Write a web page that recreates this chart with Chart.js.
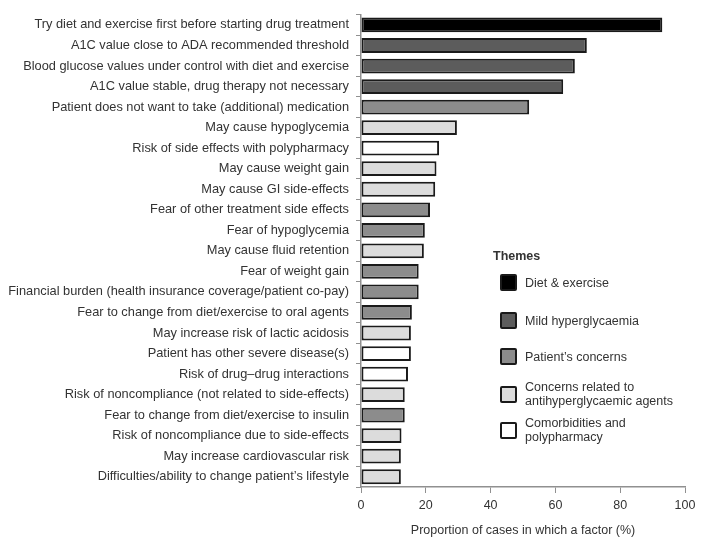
<!DOCTYPE html>
<html>
<head>
<meta charset="utf-8">
<script src="https://cdn.jsdelivr.net/npm/chart.js@4/dist/chart.umd.min.js"></script>
<style>
  html, body { margin: 0; padding: 0; background: #fff; }
  #wrap { position: relative; width: 701px; height: 542px; }
  #legend { position: absolute; left: 493px; top: 249px; width: 200px; font-family: 'Liberation Sans', sans-serif; font-size: 12.5px; color: #333; }
  #legend .title { font-weight: bold; }
  .item { position: absolute; left: 7px; display: flex; align-items: center; gap: 8px; line-height: 14px; white-space: nowrap; }
  .box { width: 13px; height: 13px; border: 2px solid #1a1a1a; border-radius: 2px; flex: none; }
</style>
</head>
<body>
<div id="wrap">
  <canvas id="c" width="701" height="542"></canvas>
  <div id="legend"></div>
</div>
<script>
const factorLabels = [
  'Try diet and exercise first before starting drug treatment',
  'A1C value close to ADA recommended threshold',
  'Blood glucose values under control with diet and exercise',
  'A1C value stable, drug therapy not necessary',
  'Patient does not want to take (additional) medication',
  'May cause hypoglycemia',
  'Risk of side effects with polypharmacy',
  'May cause weight gain',
  'May cause GI side-effects',
  'Fear of other treatment side effects',
  'Fear of hypoglycemia',
  'May cause fluid retention',
  'Fear of weight gain',
  'Financial burden (health insurance coverage/patient co-pay)',
  'Fear to change from diet/exercise to oral agents',
  'May increase risk of lactic acidosis',
  'Patient has other severe disease(s)',
  'Risk of drug\u2013drug interactions',
  'Risk of noncompliance (not related to side-effects)',
  'Fear to change from diet/exercise to insulin',
  'Risk of noncompliance due to side-effects',
  'May increase cardiovascular risk',
  'Difficulties/ability to change patient\u2019s lifestyle'
];
const proportions = [93, 69.7, 66, 62.4, 51.9, 29.6, 24.1, 23.3, 22.9, 21.3, 19.7, 19.4, 17.8, 17.8, 15.7, 15.4, 15.4, 14.5, 13.5, 13.5, 12.5, 12.3, 12.3];
// theme index for each factor
const factorTheme = [0, 1, 1, 1, 2, 3, 4, 3, 3, 2, 2, 3, 2, 2, 2, 3, 4, 4, 3, 2, 3, 3, 3];
const themeNames = ['Diet & exercise', 'Mild hyperglycaemia', 'Patient\u2019s  concerns', 'Concerns related to<br>antihyperglycaemic agents', 'Comorbidities and<br>polypharmacy'];
const themeColors = ['#000000', '#5c5c5c', '#8c8c8c', '#dcdcdc', '#ffffff'];
const themeRowsY = [33, 71, 107, 139, 175];
const xTicks = [0, 20, 40, 60, 80, 100];

const font = { family: "'Liberation Sans', sans-serif", size: 12.5 };

new Chart(document.getElementById('c'), {
  type: 'bar',
  data: {
    labels: factorLabels,
    datasets: [{
      data: proportions,
      backgroundColor: factorTheme.map(t => themeColors[t]),
      borderColor: '#1a1a1a',
      borderWidth: 2,
      borderSkipped: false,
      barPercentage: 0.72,
      categoryPercentage: 1
    }]
  },
  options: {
    indexAxis: 'y',
    responsive: false,
    animation: false,
    layout: { padding: { top: 5, right: 16, left: 0, bottom: 0 } },
    plugins: { legend: { display: false }, tooltip: { enabled: false } },
    scales: {
      y: {
        grid: { drawOnChartArea: false, tickLength: 5, color: '#909090' },
        border: { color: '#909090', width: 1.5 },
        ticks: { color: '#333', font: { family: font.family, size: 12.8 }, padding: 7, autoSkip: false },
        afterFit: s => { s.width = 361; }
      },
      x: {
        min: 0, max: 100,
        afterBuildTicks: s => { s.ticks = xTicks.map(v => ({ value: v })); },
        grid: { drawOnChartArea: false, tickLength: 6, color: '#909090' },
        border: { color: '#909090', width: 1.5 },
        ticks: { color: '#333', font: font, padding: 5 },
        title: { display: true, text: 'Proportion of cases in which a factor (%)', color: '#333', font: font, padding: { top: 8 } },
        afterFit: s => { s.height = 55; }
      }
    }
  }
});

const legend = document.getElementById('legend');
legend.innerHTML = '<div class="title">Themes</div>' + themeNames.map((n, i) =>
  `<div class="item" style="top:${themeRowsY[i] - 8}px"><div class="box" style="background:${themeColors[i]}"></div><div>${n}</div></div>`
).join('');
</script>
</body>
</html>
